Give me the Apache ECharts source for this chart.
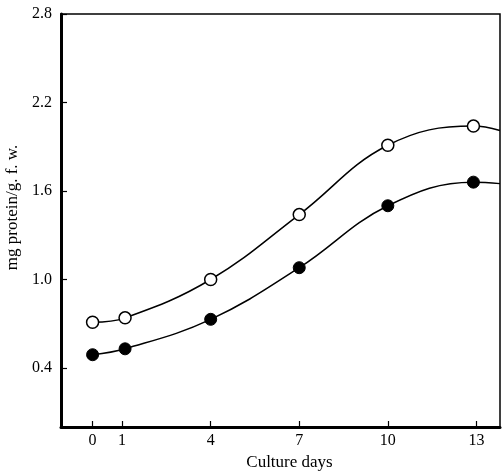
<!DOCTYPE html>
<html>
<head>
<meta charset="utf-8">
<script src="https://cdn.jsdelivr.net/npm/echarts@6/dist/echarts.min.js"></script>
<style>
  html, body { margin: 0; padding: 0; background: #fff; }
  #chart { width: 503px; height: 472px; }
</style>
</head>
<body>
<div id="chart"></div>
<script>
// days the samples were taken (the last entry is where the curve leaves the frame)
const days = [0, 1.1, 4, 7, 10, 12.9, 13.8];
const openVals = [0.71, 0.74, 1.0, 1.44, 1.91, 2.04, 2.01];
const filledVals = [0.49, 0.53, 0.73, 1.08, 1.50, 1.66, 1.65];
const xTicks = [0, 1, 4, 7, 10, 13];
const yTicks = [0.4, 1.0, 1.6, 2.2, 2.8];

const serif = '"Liberation Serif", "DejaVu Serif", serif';

function pairs(vals) {
  return days.map(function (d, i) {
    const p = { value: [d, vals[i]] };
    if (i === days.length - 1) p.symbol = 'none';
    return p;
  });
}

var chartDom = document.getElementById('chart');
var myChart = echarts.init(chartDom);
var option;

option = {
  animation: false,
  grid: {
    left: 61, right: 3, top: 14, bottom: 45,
    outerBoundsMode: 'none',
    show: true, borderColor: '#000', borderWidth: 1.5
  },
  xAxis: {
    type: 'value',
    min: -1.07,
    max: 13.8,
    name: 'Culture days',
    nameLocation: 'middle',
    nameGap: 25,
    nameTextStyle: { fontFamily: serif, fontSize: 17, color: '#000', padding: [0, 0, 0, 18] },
    splitLine: { show: false },
    axisLine: { onZero: false, lineStyle: { color: '#000', width: 3 } },
    axisTick: { inside: true, length: 6, customValues: xTicks, lineStyle: { color: '#000', width: 1.2 } },
    axisLabel: { customValues: xTicks, fontFamily: serif, fontSize: 16, color: '#000', margin: 6 }
  },
  yAxis: {
    type: 'value',
    min: 0,
    max: 2.8,
    name: 'mg protein/g. f. w.',
    nameLocation: 'middle',
    nameGap: 38,
    nameTextStyle: { fontFamily: serif, fontSize: 17, color: '#000', padding: [0, 0, 0, 26] },
    splitLine: { show: false },
    axisLine: { onZero: false, lineStyle: { color: '#000', width: 3 } },
    axisTick: { inside: true, length: 6, customValues: yTicks, lineStyle: { color: '#000', width: 1.2 } },
    axisLabel: {
      customValues: yTicks, fontFamily: serif, fontSize: 16, color: '#000', margin: 9,
      formatter: function (v) { return v.toFixed(1); }
    }
  },
  series: [
    {
      type: 'line',
      smooth: 0.4,
      data: pairs(openVals),
      symbol: 'circle',
      symbolSize: 12,
      lineStyle: { color: '#000', width: 1.5 },
      itemStyle: { color: '#fff', borderColor: '#000', borderWidth: 1.5 },
      z: 3
    },
    {
      type: 'line',
      smooth: 0.4,
      data: pairs(filledVals),
      symbol: 'circle',
      symbolSize: 12,
      lineStyle: { color: '#000', width: 1.5 },
      itemStyle: { color: '#000', borderColor: '#000', borderWidth: 1 },
      z: 3
    }
  ]
};

option && myChart.setOption(option);
</script>
</body>
</html>
